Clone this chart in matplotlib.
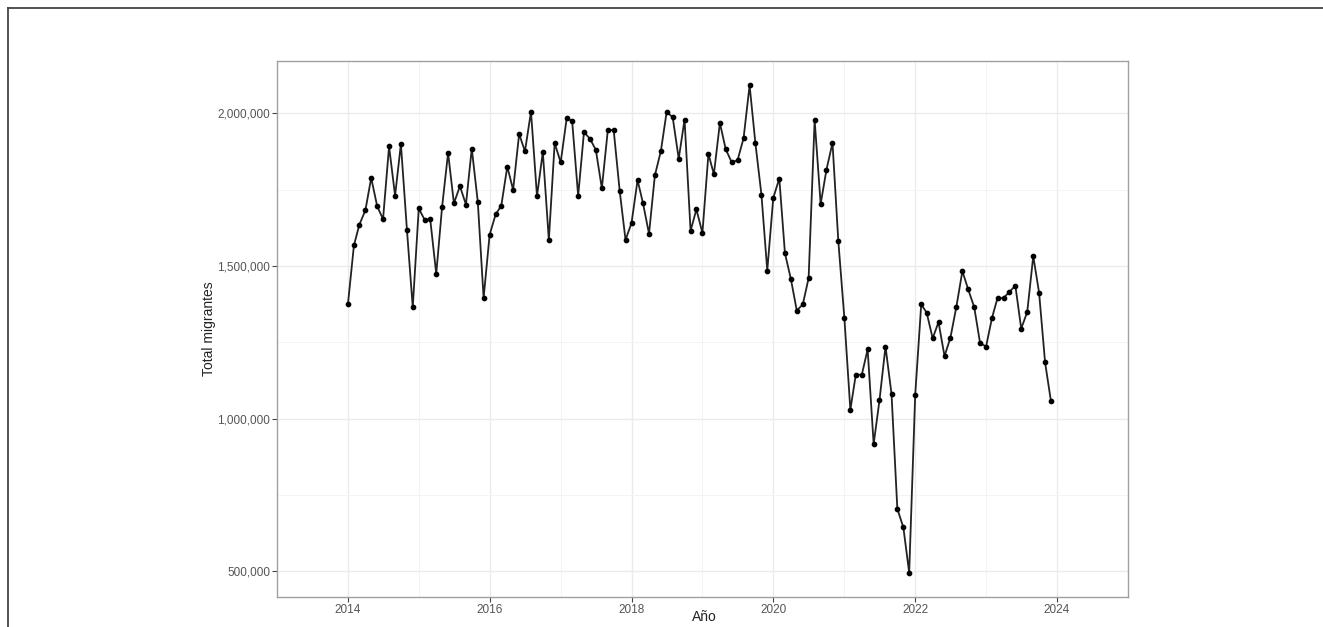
import numpy as np
import pandas as pd
import matplotlib
matplotlib.use("Agg")
import matplotlib.pyplot as plt
import matplotlib.dates as mdates
from matplotlib.ticker import FuncFormatter, MultipleLocator
from matplotlib.lines import Line2D

plt.rcParams['font.family'] = ['Liberation Sans', 'DejaVu Sans']

# monthly totals
y2014 = [1374000, 1567000, 1635000, 1682000, 1788000, 1695000, 1653000, 1891000, 1730000, 1899000, 1619000, 1365000]
y2015 = [1688000, 1650000, 1653000, 1474000, 1692000, 1870000, 1705000, 1761000, 1701000, 1884000, 1710000, 1395000]
y2016 = [1602000, 1669000, 1697000, 1825000, 1749000, 1932000, 1875000, 2005000, 1728000, 1873000, 1585000, 1902000]
y2017 = [1839000, 1984000, 1974000, 1729000, 1938000, 1916000, 1880000, 1754000, 1946000, 1944000, 1745000, 1585000]
y2018 = [1641000, 1781000, 1705000, 1605000, 1796000, 1876000, 2005000, 1986000, 1851000, 1979000, 1615000, 1685000]
y2019 = [1608000, 1867000, 1800000, 1968000, 1882000, 1839000, 1846000, 1918000, 2091000, 1901000, 1733000, 1485000]
y2020 = [1723000, 1786000, 1542000, 1456000, 1354000, 1374000, 1460000, 1977000, 1703000, 1815000, 1903000, 1581000]
y2021 = [1331000, 1029000, 1144000, 1144000, 1227000, 917000, 1060000, 1236000, 1081000, 705000, 644000, 496000]
y2022 = [1078000, 1374000, 1347000, 1263000, 1316000, 1205000, 1264000, 1366000, 1483000, 1423000, 1365000, 1248000]
y2023 = [1236000, 1331000, 1395000, 1395000, 1415000, 1435000, 1295000, 1349000, 1532000, 1413000, 1184000, 1058000]

total = y2014 + y2015 + y2016 + y2017 + y2018 + y2019 + y2020 + y2021 + y2022 + y2023
fechas = pd.date_range('2014-01-01', periods=len(total), freq='MS')

y_ticks = [500000, 1000000, 1500000, 2000000]
x_ticks = ['2014', '2016', '2018', '2020', '2022', '2024']

fig = plt.figure(figsize=(13.23, 6.27), dpi=100)
ax = fig.add_axes([0.2094, 0.0478, 0.6432, 0.8549])

ax.plot(fechas, total, color='#222222', lw=1.3, marker='o', ms=3.1,
        markerfacecolor='black', markeredgecolor='black', zorder=3)

# ggplot-like expansion of 5%
xn = mdates.date2num(fechas)
xr = xn.max() - xn.min()
ax.set_xlim(xn.min() - 0.05 * xr, xn.max() + 0.05 * xr)
vr = max(total) - min(total)
ax.set_ylim(min(total) - 0.05 * vr, max(total) + 0.05 * vr)

ax.set_yticks(y_ticks)
ax.yaxis.set_minor_locator(MultipleLocator(250000))
ax.yaxis.set_major_formatter(FuncFormatter(lambda v, p: f'{int(v):,}'))

maj = [mdates.date2num(pd.Timestamp(t + '-01-01')) for t in x_ticks]
ax.set_xticks(maj)
ax.set_xticklabels(x_ticks)
mins = [mdates.date2num(pd.Timestamp(f'{y}-01-01')) for y in range(2013, 2026, 2)]
ax.set_xticks(mins, minor=True)

ax.grid(which='major', color='#ebebeb', lw=1.0, zorder=0)
ax.grid(which='minor', color='#f3f3f3', lw=0.6, zorder=0)
ax.set_axisbelow(True)

for s in ax.spines.values():
    s.set_color('#a0a0a0')
    s.set_linewidth(1.0)

ax.tick_params(which='major', length=3.5, width=0.8, color='#444444',
               labelsize=8.5, labelcolor='#555555', pad=1.5)
ax.tick_params(which='minor', length=0)

ax.set_xlabel('Año', fontsize=10, color='#222222')
ax.xaxis.label.set_va('center')
ax.xaxis.set_label_coords(0.502, -20 / 536)
ax.set_ylabel('Total migrantes', fontsize=10, color='#222222')
ax.yaxis.label.set_va('center')
ax.yaxis.set_label_coords(-68 / 851, 0.5)

# outer frame lines (top and left)
fig.add_artist(Line2D([8 / 1323, 1], [1 - 8 / 627, 1 - 8 / 627], color='#444444', lw=1.3))
fig.add_artist(Line2D([8 / 1323, 8 / 1323], [0, 1 - 8 / 627], color='#444444', lw=1.3))

fig.savefig('out.png', dpi=100, facecolor='white')
